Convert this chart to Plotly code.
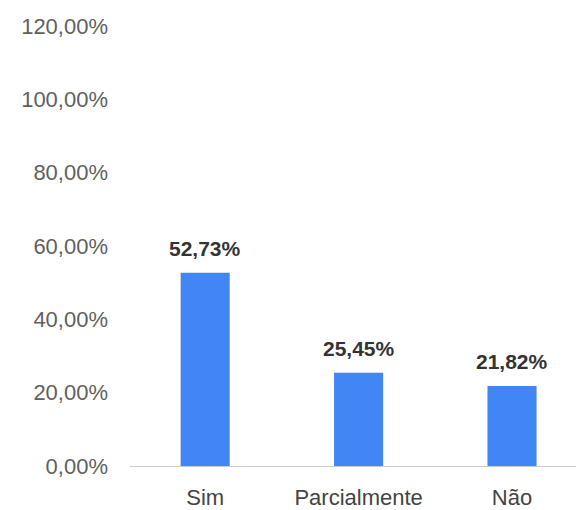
import plotly.graph_objects as go

# Survey responses (percentage of respondents)
categories = ["Sim", "Parcialmente", "Não"]
values = [52.73, 25.45, 21.82]
tick_values = [0, 20, 40, 60, 80, 100, 120]
tick_labels = ["0,00%", "20,00%", "40,00%", "60,00%", "80,00%", "100,00%", "120,00%"]


def pt_br_percent(v):
    return f"{v:.2f}".replace(".", ",") + "%"


bar_color = "#4285F4"
font_family = "Liberation Sans, Arial, sans-serif"

fig = go.Figure(
    go.Bar(
        x=categories,
        y=values,
        marker=dict(color=bar_color, line=dict(width=0)),
        width=0.32,
        hoverinfo="skip",
    )
)

# Value labels above each bar
for cat, val in zip(categories, values):
    fig.add_annotation(
        x=cat,
        y=val,
        text=f"<b>{pt_br_percent(val)}</b>",
        showarrow=False,
        yanchor="bottom",
        yshift=11,
        font=dict(family=font_family, size=21, color="#333333"),
    )

fig.update_layout(
    width=576,
    height=510,
    margin=dict(l=130, r=0, t=26, b=40),
    paper_bgcolor="white",
    plot_bgcolor="white",
    showlegend=False,
    font=dict(family=font_family),
    xaxis=dict(
        range=[-0.49, 2.417],
        showgrid=False,
        showline=True,
        linecolor="#cccccc",
        linewidth=1,
        ticks="",
        tickfont=dict(size=22, color="#444444"),
        ticklabelstandoff=12,
        fixedrange=True,
    ),
    yaxis=dict(
        range=[0, 120],
        tickvals=tick_values,
        ticktext=tick_labels,
        showgrid=False,
        zeroline=False,
        showline=False,
        ticks="",
        tickfont=dict(size=22, color="#5f5f5f"),
        ticklabelstandoff=21,
        fixedrange=True,
    ),
)

fig.write_html("out.html")
